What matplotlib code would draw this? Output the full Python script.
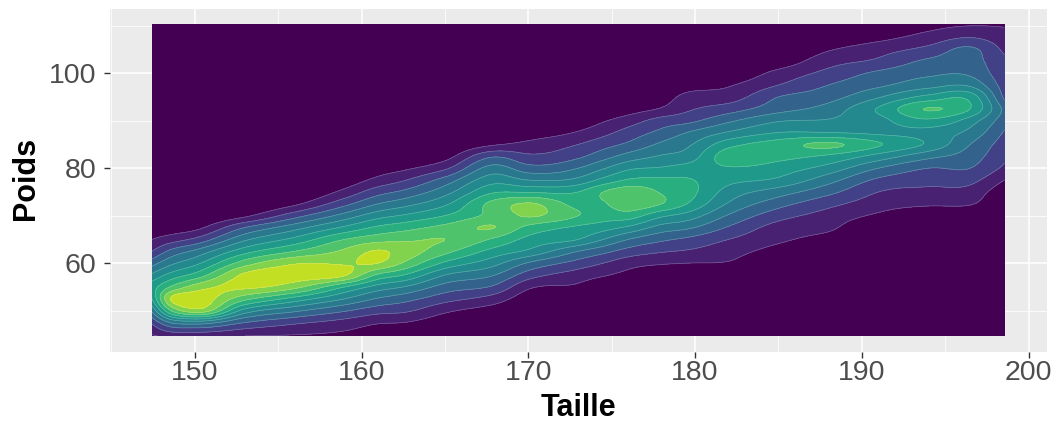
import numpy as np
import matplotlib
matplotlib.use('Agg')
import matplotlib.pyplot as plt

plt.rcParams['font.family'] = ['Liberation Sans', 'DejaVu Sans']

taille = [147.44, 148.5, 150, 153, 156, 159, 161, 162.5, 165, 168, 170, 173, 174.5, 176, 178, 179.5, 182, 185, 188, 191, 194, 196.5, 198.55]
poids = [44.7, 47.5, 50, 52.5, 55, 57.5, 60, 62.5, 65, 67.5, 70, 72.5, 75, 77.5, 80, 82.5, 85, 87.5, 90, 92.5, 95, 97.5, 100, 102.5, 105, 107.5, 110.2]

# densite, une liste par colonne de taille (du bas vers le haut)
d147 = [.9, 2.2, 4.2, 6, 6.5, 5.2, 3.6, 2, 1, .3, 0, 0, 0, 0, 0, 0, 0, 0, 0, 0, 0, 0, 0, 0, 0, 0, 0]
d148 = [1.2, 4, 7.8, 9.9, 8, 6.3, 4.7, 3.2, 1.5, .4, 0, 0, 0, 0, 0, 0, 0, 0, 0, 0, 0, 0, 0, 0, 0, 0, 0]
d150 = [1.2, 4.5, 9.6, 10.6, 9.4, 7.3, 5.7, 4.2, 2.2, .7, 0, 0, 0, 0, 0, 0, 0, 0, 0, 0, 0, 0, 0, 0, 0, 0, 0]
d153 = [1, 3, 5.6, 8.3, 10.2, 10.2, 8.5, 6.6, 4.8, 3, .8, 0, 0, 0, 0, 0, 0, 0, 0, 0, 0, 0, 0, 0, 0, 0, 0]
d156 = [.9, 2.2, 4.2, 6.6, 9.3, 10.5, 9.9, 8, 6.3, 4.6, 2.6, .8, 0, 0, 0, 0, 0, 0, 0, 0, 0, 0, 0, 0, 0, 0, 0]
d159 = [.7, 1.6, 3.1, 5, 7, 10.1, 9.9, 9.2, 8, 6.2, 4.4, 2.7, 1.3, .4, 0, 0, 0, 0, 0, 0, 0, 0, 0, 0, 0, 0, 0]
d161 = [.4, 1.1, 2.4, 3.9, 5.6, 7.8, 10, 10.1, 8.6, 7.2, 5.6, 4, 2.6, 1.3, .5, 0, 0, 0, 0, 0, 0, 0, 0, 0, 0, 0, 0]
d162 = [.3, 1, 2.2, 3.4, 5, 7, 8.9, 9.6, 8.8, 7.6, 6.1, 4.6, 3.2, 1.9, .8, 0, 0, 0, 0, 0, 0, 0, 0, 0, 0, 0, 0]
d165 = [0, .4, 1.2, 2.4, 3.6, 5, 6.8, 8.3, 9, 8.3, 7, 5.8, 4.6, 3.4, 1.8, .6, 0, 0, 0, 0, 0, 0, 0, 0, 0, 0, 0]
d168 = [0, 0, .5, 1.5, 2.8, 4, 5.3, 6.6, 7.8, 9, 8.4, 8.4, 6.9, 5.6, 4.4, 2.9, .9, 0, 0, 0, 0, 0, 0, 0, 0, 0, 0]
d170 = [0, 0, 0, .4, 1.2, 2.5, 3.9, 5.8, 6.7, 7.7, 9.1, 9.1, 6.9, 5, 3.4, 2.2, 1.3, .4, 0, 0, 0, 0, 0, 0, 0, 0, 0]
d173 = [0, 0, 0, .2, .8, 1.5, 2.6, 4, 6, 6.8, 8, 7.7, 7, 5.3, 4, 2.8, 2, 1.1, .3, 0, 0, 0, 0, 0, 0, 0, 0]
d174 = [0, 0, 0, 0, .3, 1.1, 2, 3.3, 5, 6.4, 7.5, 7.9, 8, 6.3, 4.9, 3.6, 2.6, 1.7, .9, .1, 0, 0, 0, 0, 0, 0, 0]
d176 = [0, 0, 0, 0, 0, .7, 1.4, 2.6, 4, 5.8, 7.5, 8.6, 8.6, 7.1, 5.8, 4.4, 3.2, 2.4, 1.5, .5, 0, 0, 0, 0, 0, 0, 0]
d178 = [0, 0, 0, 0, 0, .3, 1.1, 2.1, 3.2, 4.6, 6.2, 8, 7.9, 7.2, 6.1, 5.1, 4.2, 3.3, 2.4, 1.1, .5, .1, 0, 0, 0, 0, 0]
d179 = [0, 0, 0, 0, 0, .2, 1, 1.9, 2.8, 4.2, 5.6, 7, 7.4, 7.1, 6.4, 5.4, 4.8, 4, 2.7, 1.8, 1.3, .5, 0, 0, 0, 0, 0]
d182 = [0, 0, 0, 0, 0, 0, .9, 1.4, 2, 2.9, 3.9, 4.9, 5.6, 6.3, 6.9, 7.6, 6.6, 5.1, 3.8, 2.5, 1.5, .9, .2, 0, 0, 0, 0]
d185 = [0, 0, 0, 0, 0, 0, 0, .6, 1.2, 1.6, 2.4, 3.4, 4.5, 5.8, 6.5, 7.3, 7.5, 6, 4.9, 3.6, 3, 2, 1.3, .4, 0, 0, 0]
d188 = [0, 0, 0, 0, 0, 0, 0, 0, .6, 1.2, 1.6, 2.3, 3.3, 4.4, 5.6, 6.8, 8.2, 6, 5.1, 4.4, 3.6, 3, 2.3, 1.6, .9, .2, 0]
d191 = [0, 0, 0, 0, 0, 0, 0, 0, 0, 0, .8, 1.5, 2, 2.8, 4, 5.6, 7.1, 5.8, 5.7, 6.1, 4.9, 3.8, 3.2, 2.2, 1.6, .7, 0]
d194 = [0, 0, 0, 0, 0, 0, 0, 0, 0, 0, 0, 1.2, 1.7, 2.4, 3, 4.3, 5.8, 5.6, 6.8, 8.05, 6.3, 4.6, 3.8, 3.2, 2.3, 1.4, .6]
d196 = [0, 0, 0, 0, 0, 0, 0, 0, 0, 0, 0, 1.1, 1.6, 2.3, 3, 3.5, 4, 4.7, 5.5, 7, 6.6, 4.8, 3.8, 3.4, 3.2, 2, .9]
d198 = [0, 0, 0, 0, 0, 0, 0, 0, 0, 0, 0, 0, .3, 1, 1.8, 2.2, 2.5, 2.9, 3.4, 3.7, 2.8, 2.5, 2.3, 2.2, 1.8, 1.4, .9]

colonnes = [d147, d148, d150, d153, d156, d159, d161, d162, d165, d168, d170, d173, d174, d176, d178, d179, d182, d185, d188, d191, d194, d196, d198]
niveaux = [0, 1, 2, 3, 4, 5, 6, 7, 8, 9, 10, 11]
teintes = [0, .09, .19, .31, .40, .47, .54, .63, .72, .81, .91]


def arrondi(xs, z, n):
    # courbe de Hermite le long de l'axe 0, pour des contours sans angles
    xs = np.array(xs)
    pente = np.gradient(z, xs, axis=0)
    fin = np.linspace(xs[0], xs[-1], n)
    i = np.clip(np.searchsorted(xs, fin) - 1, 0, len(xs) - 2)
    h = xs[i + 1] - xs[i]
    t = (fin - xs[i]) / h
    t = t[:, None]
    h = h[:, None]
    res = (2*t**3 - 3*t**2 + 1) * z[i] + (t**3 - 2*t**2 + t) * h * pente[i]
    res = res + (-2*t**3 + 3*t**2) * z[i + 1] + (t**3 - t**2) * h * pente[i + 1]
    return fin, res


z = np.array(colonnes).T
y_fin, z = arrondi(poids, z, 260)
x_fin, z = arrondi(taille, z.T, 340)
z = np.clip(z.T, 0, None)

couleurs = [plt.cm.viridis(t) for t in teintes]

fig = plt.figure(figsize=(10.57, 4.23), dpi=100)
ax = fig.add_axes([109.5 / 1057, 1 - 352 / 423, (1047 - 109.5) / 1057, (352 - 9) / 423])
ax.set_facecolor('#EBEBEB')

ax.contourf(x_fin, y_fin, z, levels=niveaux, colors=couleurs, zorder=3)
ax.contour(x_fin, y_fin, z, levels=niveaux[1:], colors='white', alpha=0.28, linewidths=0.5, zorder=4)

ax.set_xlim(144.89, 201.1)
ax.set_ylim(41.3, 113.5)
ax.set_xticks([150, 160, 170, 180, 190, 200])
ax.set_yticks([60, 80, 100])
ax.set_xticks([145, 155, 165, 175, 185, 195], minor=True)
ax.set_yticks([50, 70, 90, 110], minor=True)
ax.grid(True, which='major', color='white', linewidth=1.1, zorder=1)
ax.grid(True, which='minor', color='white', linewidth=0.55, zorder=1)
ax.set_axisbelow(True)
ax.tick_params(which='major', length=4, width=1.0, color='#333333', labelcolor='#4D4D4D', labelsize=20.5)
ax.tick_params(axis='x', which='major', pad=2)
ax.tick_params(axis='y', which='major', pad=5.6)
ax.tick_params(which='minor', length=0)
for s in ax.spines.values():
    s.set_visible(False)

ax.set_xlabel('Taille', fontsize=22, fontweight='bold', labelpad=5)
ax.set_ylabel('Poids', fontsize=22, fontweight='bold')
ax.yaxis.set_label_coords(-0.073, 0.505)

fig.savefig('out.png', dpi=100)
